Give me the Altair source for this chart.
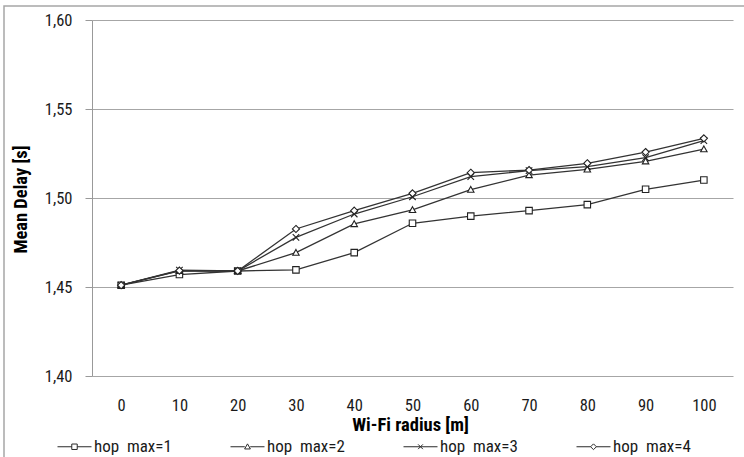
import altair as alt
import pandas as pd

radius = [0, 10, 20, 30, 40, 50, 60, 70, 80, 90, 100]
series_names = ["hop  max=1", "hop  max=2", "hop  max=3", "hop  max=4"]
hop1 = [1.451, 1.457, 1.459, 1.4596, 1.4693, 1.4858, 1.4898, 1.4929, 1.4963, 1.5049, 1.5101]
hop2 = [1.451, 1.459, 1.459, 1.4693, 1.4854, 1.4933, 1.5047, 1.5129, 1.5161, 1.5206, 1.5274]
hop3 = [1.451, 1.4595, 1.459, 1.4779, 1.4910, 1.5007, 1.5120, 1.5154, 1.5176, 1.5227, 1.5322]
hop4 = [1.451, 1.4592, 1.459, 1.4826, 1.4929, 1.5026, 1.5142, 1.5157, 1.5195, 1.5258, 1.5335]
y_ticks = [1.40, 1.45, 1.50, 1.55, 1.60]

rows = []
for name, vals in zip(series_names, [hop1, hop2, hop3, hop4]):
    for r, v in zip(radius, vals):
        rows.append({"radius": r, "delay": v, "series": name})
df = pd.DataFrame(rows)

FONT = "Roboto Condensed, Liberation Sans Narrow, Liberation Sans, sans-serif"

plot_shapes = [
    "M-1,-1H1V1H-1Z",
    "M0,-1L1,0.8H-1Z",
    "M-1,-1L1,1M1,-1L-1,1",
    "M0,-1.1L1.1,0L0,1.1L-1.1,0Z",
]
legend_shapes = [
    "M-1,0H-0.16M0.16,0H1M-0.16,-0.16H0.16V0.16H-0.16Z",
    "M-1,0H-0.16M0.16,0H1M0,-0.17L0.17,0.13H-0.17Z",
    "M-1,0H1M-0.14,-0.14L0.14,0.14M0.14,-0.14L-0.14,0.14",
    "M-1,0H-0.16M0.16,0H1M0,-0.17L0.17,0L0,0.17L-0.17,0Z",
]

x_enc = alt.X(
    "radius:O",
    scale=alt.Scale(type="point", padding=0.5),
    axis=alt.Axis(
        title="Wi-Fi radius [m]", labelAngle=0, ticks=False, domain=False, grid=False,
        labelPadding=21, labelFontSize=16.5, labelFont=FONT, labelColor="#1a1a1a",
        titleFont=FONT, titleFontSize=18.5, titleFontWeight="bold", titleColor="#000000",
        titleX=318, titleY=48, titleBaseline="middle",
    ),
)
y_enc = alt.Y(
    "delay:Q",
    scale=alt.Scale(domain=[1.40, 1.60], nice=False, zero=False),
    axis=alt.Axis(
        values=y_ticks, title="Mean Delay [s]",
        labelExpr="replace(format(datum.value, '.2f'), '.', ',')",
        tickSize=7, tickColor="#999999", labelPadding=13, labelFontSize=16.5,
        labelFont=FONT, labelColor="#1a1a1a",
        domainColor="#999999", gridColor="#a6a6a6", gridWidth=1.2,
        titleFont=FONT, titleFontSize=18.5, titleFontWeight="bold", titleColor="#000000",
        titleX=-72, titleY=179, titleAngle=-90, titleAlign="center", titleBaseline="middle",
    ),
)

lines = alt.Chart(df).mark_line(color="#333333", strokeWidth=1.3).encode(
    x=x_enc, y=y_enc, detail="series:N"
)
points = alt.Chart(df).mark_point(
    filled=True, fill="white", stroke="#222222", strokeWidth=1.1, size=42, opacity=1
).encode(
    x=x_enc,
    y=y_enc,
    shape=alt.Shape(
        "series:N",
        scale=alt.Scale(domain=series_names, range=plot_shapes),
        legend=None,
    ),
)

# legend-only layer: no marks drawn (filtered out), its shape scale supplies legend glyphs
legend_layer = alt.Chart(df).transform_filter("datum.delay < 0").mark_point(
    filled=False, color="#2a2a2a", strokeWidth=1, opacity=1
).encode(
    x=x_enc,
    y=y_enc,
    shape=alt.Shape(
        "series:N",
        scale=alt.Scale(domain=series_names, range=legend_shapes),
        legend=alt.Legend(
            title=None, orient="none", legendX=-35, legendY=409, columns=4,
            columnPadding=56, symbolSize=1156, labelOffset=2, labelFontSize=17,
            labelFont=FONT, labelColor="#1a1a1a", padding=0,
            labelExpr="replace(datum.label, '  ', ' \u00a0')",
            symbolStrokeColor="#2a2a2a", symbolStrokeWidth=1, symbolOpacity=1,
        ),
    ),
)

border = alt.Chart(pd.DataFrame({"a": [0]})).mark_rect(
    fill=None, stroke="#a6a6a6", strokeWidth=1.5
).encode(
    x=alt.value(-88), x2=alt.value(720), y=alt.value(-14), y2=alt.value(500)
)

chart = alt.layer(border, lines, points, legend_layer).resolve_scale(
    shape="independent"
).resolve_legend(shape="independent").properties(
    width=641, height=356, autosize="none",
    padding={"left": 92, "top": 20, "right": 11, "bottom": 81},
    background="white",
).configure_view(stroke=None)

chart.save("out.html", embed_options={"renderer": "svg", "actions": False})
